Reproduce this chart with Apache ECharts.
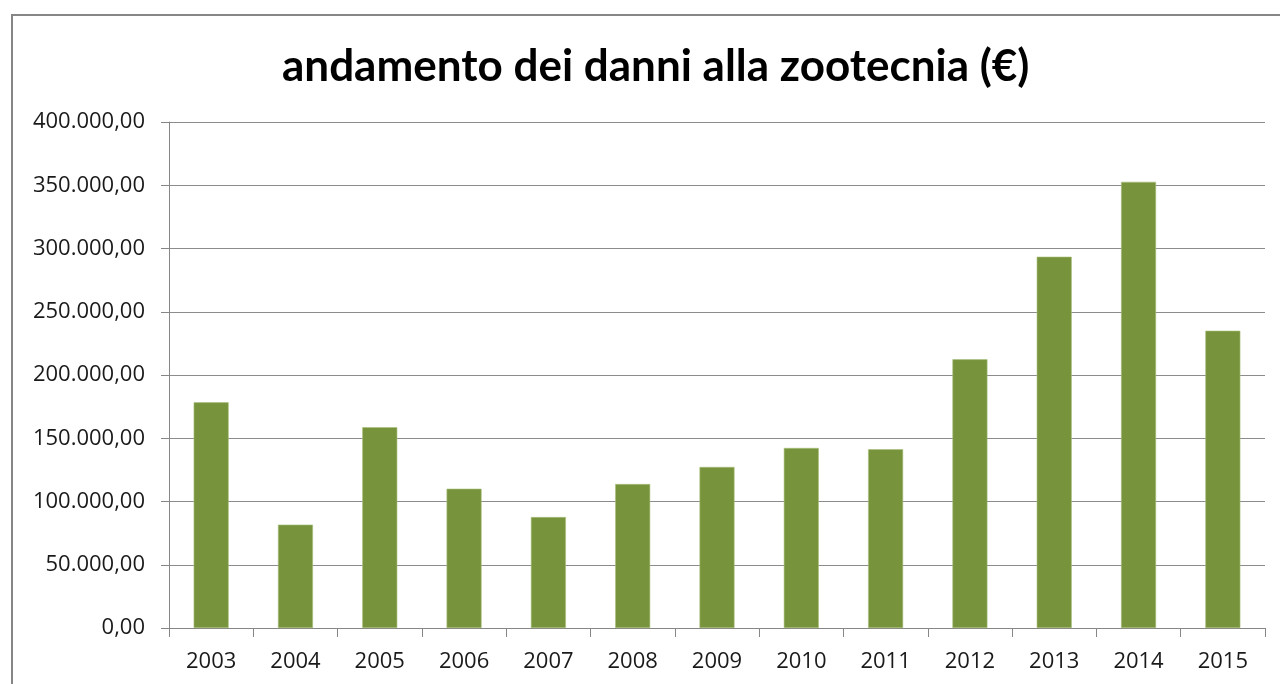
<!DOCTYPE html>
<html>
<head>
<meta charset="utf-8">
<script src="https://cdn.jsdelivr.net/npm/echarts@6/dist/echarts.min.js"></script>
<style>
html,body{margin:0;padding:0;background:#fff;}
#chart{width:1280px;height:684px;}
</style>
</head>
<body>
<div id="chart"></div>
<script>
const titleText = 'andamento dei danni alla zootecnia (€)';
const categories = ['2003','2004','2005','2006','2007','2008','2009','2010','2011','2012','2013','2014','2015'];
const values = [178400, 81700, 158700, 110100, 87700, 113800, 127300, 142300, 141300, 212400, 293500, 352700, 235000];

function fmt(v){
  const s = Math.round(v).toString().replace(/\B(?=(\d{3})+(?!\d))/g, '.');
  return s + ',00';
}

const chart = echarts.init(document.getElementById('chart'), null, {renderer:'canvas'});
chart.setOption({
  animation:false,
  backgroundColor:'#ffffff',
  graphic:[{
    type:'rect', z:-1,
    shape:{x:12, y:15, width:1320, height:720},
    style:{fill:'none', stroke:'#868686', lineWidth:2}
  }],
  title:{
    text:titleText, left:277, top:40,
    textStyle:{fontFamily:'Lato', fontWeight:'bold', fontSize:44, color:'#000'}
  },
  grid:{left:169, right:15, top:122, bottom:56, containLabel:false},
  xAxis:{
    type:'category', data:categories,
    axisLine:{lineStyle:{color:'#868686', width:1}},
    axisTick:{show:true, length:9, lineStyle:{color:'#868686'}},
    axisLabel:{fontFamily:'Open Sans', fontSize:22, color:'#1a1a1a', margin:23}
  },
  yAxis:{
    type:'value', min:0, max:400000, interval:50000,
    axisLine:{show:true, lineStyle:{color:'#868686'}},
    axisTick:{show:true, length:8, lineStyle:{color:'#868686'}},
    splitLine:{lineStyle:{color:'#8c8c8c', width:1}},
    axisLabel:{fontFamily:'Open Sans', fontSize:22, color:'#1a1a1a', margin:24, formatter:fmt}
  },
  series:[{
    type:'bar', data:values, barWidth:35,
    itemStyle:{color:'#77933C', borderColor:'#a9c07a', borderWidth:0.6}
  }]
});
</script>
</body>
</html>
